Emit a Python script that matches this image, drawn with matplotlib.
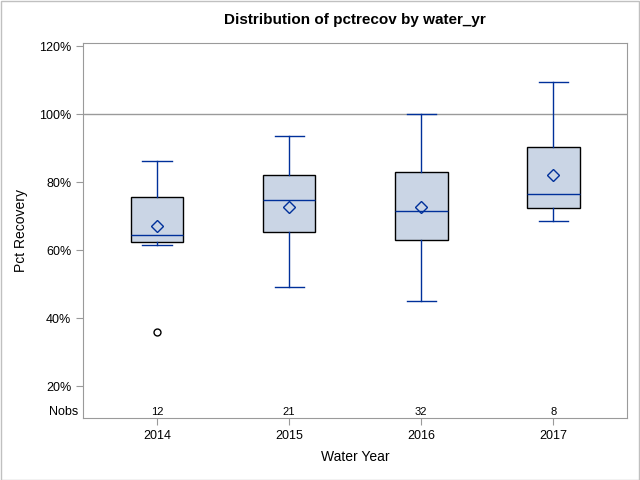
import matplotlib.pyplot as plt
from matplotlib.patches import Rectangle
from matplotlib.ticker import PercentFormatter

plt.rcParams['font.family'] = ['Liberation Sans', 'DejaVu Sans']

# Data
years = ['2014', '2015', '2016', '2017']
nobs = [12, 21, 32, 8]
whislo = [0.614, 0.491, 0.450, 0.687]
q1 = [0.623, 0.652, 0.629, 0.724]
med = [0.645, 0.746, 0.714, 0.764]
mean = [0.670, 0.727, 0.726, 0.820]
q3 = [0.757, 0.821, 0.831, 0.902]
whishi = [0.861, 0.935, 0.999, 1.093]
fliers = [[0.358], [], [], []]

blue = '#00309A'
fill = '#CAD5E5'
grey = '#9A9A9A'

fig = plt.figure(figsize=(6.4, 4.8), dpi=100)
ax = fig.add_axes([0.1297, 0.129, 0.8503, 0.7814])

stats = []
for i in range(len(years)):
    stats.append(dict(label=years[i], whislo=whislo[i], q1=q1[i], med=med[i],
                      mean=mean[i], q3=q3[i], whishi=whishi[i], fliers=fliers[i]))

pos = list(range(len(years)))
ax.axhline(1.0, color=grey, lw=1, zorder=0)
ax.bxp(stats, positions=pos, widths=0.4, showmeans=True, patch_artist=True,
       boxprops=dict(facecolor=fill, edgecolor='black', linewidth=1.0),
       medianprops=dict(color=blue, linewidth=1.0),
       whiskerprops=dict(color=blue, linewidth=1.0),
       capprops=dict(color=blue, linewidth=1.0),
       capwidths=0.22,
       meanprops=dict(marker='D', markerfacecolor='none', markeredgecolor=blue,
                      markersize=6.5, markeredgewidth=1.0),
       flierprops=dict(marker='o', markerfacecolor='none', markeredgecolor='black',
                       markersize=5, markeredgewidth=1.0))

ax.set_xlim(-0.56, 3.56)
ax.set_ylim(0.106, 1.209)
ax.set_yticks([0.2, 0.4, 0.6, 0.8, 1.0, 1.2])
ax.yaxis.set_major_formatter(PercentFormatter(1.0, decimals=0))
ax.set_xticks(pos)
ax.set_xticklabels(years)

for s in ax.spines.values():
    s.set_color(grey)
ax.tick_params(colors=grey, labelcolor='black', labelsize=9, length=5)

# Nobs row
for i in range(len(years)):
    ax.text(pos[i], 0.124, str(nobs[i]), ha='center', va='center', fontsize=8)
ax.text(-0.008, 0.124, 'Nobs', ha='right', va='center', fontsize=9,
        transform=ax.get_yaxis_transform())

ax.set_xlabel('Water Year', fontsize=10, labelpad=6)
ax.set_ylabel('Pct Recovery', fontsize=10, labelpad=8)
ax.set_title('Distribution of pctrecov by water_yr', fontsize=11, fontweight='bold', pad=14)

fig.patches.append(Rectangle((0.001, 0.001), 0.997, 0.997, transform=fig.transFigure,
                             fill=False, edgecolor='#C0C0C0', linewidth=1))

fig.savefig('out.png', dpi=100)
